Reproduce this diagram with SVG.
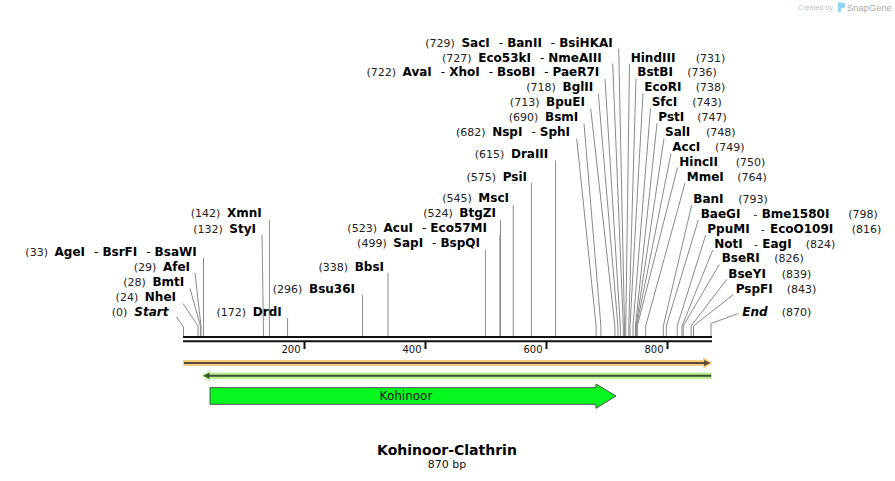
<svg xmlns="http://www.w3.org/2000/svg" width="895" height="481" viewBox="0 0 895 481">
<style>
.n{font-family:"DejaVu Sans",Verdana,sans-serif;font-size:11px;font-weight:normal;font-style:normal;fill:#222}
.b{font-family:"DejaVu Sans",Verdana,sans-serif;font-size:12px;font-weight:bold;fill:#000}
.d{font-weight:normal}
.i{font-style:italic}
.ln{stroke:#8a8a8a;stroke-width:1;fill:none}
.bb{stroke:#111;stroke-width:2}
.tk{stroke:#111;stroke-width:2}
.tl{font-family:"DejaVu Sans",Verdana,sans-serif;font-size:10px;fill:#111}
</style>
<rect width="895" height="481" fill="#fff"/>

<g id="watermark">
<text x="798" y="10" font-family="Liberation Sans,Arial,sans-serif" font-size="7.2" fill="#c4c4c4">Created by</text>
<path d="M838,2.5 h4.5 a2.8,2.8 0 0 1 0,5.6 h-1.6 v4 h-2.9 z" fill="#8fd2f3"/>
<text x="847" y="11" font-family="Liberation Sans,Arial,sans-serif" font-size="9.4" fill="#ababab">SnapGene</text>
</g>

<g id="connectors">
<path class="ln" d="M176.5,317 L183.5,327 V336"/>
<path class="ln" d="M183,303.5 L198,326 V336"/>
<path class="ln" d="M190,288.5 L200.4,326 V336"/>
<path class="ln" d="M195,273 L201,326 V336"/>
<path class="ln" d="M203.5,258 V336"/>
<path class="ln" d="M262,234.5 L263.4,326 V336"/>
<path class="ln" d="M269.4,220 V336"/>
<path class="ln" d="M287.6,318 V336"/>
<path class="ln" d="M362.6,295 V336"/>
<path class="ln" d="M388,273 V336"/>
<path class="ln" d="M485.4,250 V336"/>
<path class="ln" d="M499.9,235 V336"/>
<path class="ln" d="M500.5,220 V336"/>
<path class="ln" d="M513.2,205 V336"/>
<path class="ln" d="M531.4,183 V336"/>
<path class="ln" d="M555.6,160.5 V336"/>
<path class="ln" d="M576.7,138.5 L596.1,326 V336"/>
<path class="ln" d="M584,123.5 L600.9,326 V336"/>
<path class="ln" d="M590.7,108.5 L614.9,326 V336"/>
<path class="ln" d="M598.3,93.5 L617.9,326 V336"/>
<path class="ln" d="M605,79 L620.3,326 V336"/>
<path class="ln" d="M612.7,63.5 L623.3,326 V336"/>
<path class="ln" d="M618.7,48.5 L624.5,326 V336"/>
<path class="ln" d="M629.5,64 L625.8,326 V336"/>
<path class="ln" d="M636,78.5 L628.8,326 V336"/>
<path class="ln" d="M643,93.5 L630,326 V336"/>
<path class="ln" d="M650.5,108.5 L633,326 V336"/>
<path class="ln" d="M657,123.5 L635.4,326 V336"/>
<path class="ln" d="M664,138.5 L636,326 V336"/>
<path class="ln" d="M671,153.5 L636.6,326 V336"/>
<path class="ln" d="M677.5,167.5 L637.3,326 V336"/>
<path class="ln" d="M685,183 L645.7,326 V336"/>
<path class="ln" d="M691.7,205 L663.3,326 V336"/>
<path class="ln" d="M698.3,220 L666.3,326 V336"/>
<path class="ln" d="M705.7,235 L677.2,326 V336"/>
<path class="ln" d="M712.7,250 L682,326 V336"/>
<path class="ln" d="M719.3,264.5 L683.2,326 V336"/>
<path class="ln" d="M726.7,279.5 L691.1,326 V336"/>
<path class="ln" d="M733.3,294.5 L693.5,326 V336"/>
<path class="ln" d="M738.3,313.5 L711,323.5 V336"/>
</g>

<g id="site-0"><text class="b" x="168.5" y="316" text-anchor="end"><tspan class="n">(0)</tspan><tspan class="i" dx="7">Start</tspan></text></g>
<g id="site-24"><text class="b" x="176" y="301" text-anchor="end"><tspan class="n">(24)</tspan><tspan dx="6.6">NheI</tspan></text></g>
<g id="site-28"><text class="b" x="184.3" y="286" text-anchor="end"><tspan class="n">(28)</tspan><tspan dx="6.6">BmtI</tspan></text></g>
<g id="site-29"><text class="b" x="190" y="271" text-anchor="end"><tspan class="n">(29)</tspan><tspan dx="6.6">AfeI</tspan></text></g>
<g id="site-33"><text class="b" x="196.7" y="255.5" text-anchor="end"><tspan class="n">(33)</tspan><tspan dx="6.6">AgeI</tspan><tspan class="d" dx="9">-</tspan><tspan dx="4">BsrFI</tspan><tspan class="d" dx="9">-</tspan><tspan dx="4">BsaWI</tspan></text></g>
<g id="site-142"><text class="b" x="261.7" y="217.3" text-anchor="end"><tspan class="n">(142)</tspan><tspan dx="6.6">XmnI</tspan></text></g>
<g id="site-132"><text class="b" x="256" y="232.7" text-anchor="end"><tspan class="n">(132)</tspan><tspan dx="6.6">StyI</tspan></text></g>
<g id="site-172"><text class="b" x="281.7" y="316" text-anchor="end"><tspan class="n">(172)</tspan><tspan dx="6.6">DrdI</tspan></text></g>
<g id="site-296"><text class="b" x="355" y="292.7" text-anchor="end"><tspan class="n">(296)</tspan><tspan dx="6.6">Bsu36I</tspan></text></g>
<g id="site-338"><text class="b" x="384" y="270.5" text-anchor="end"><tspan class="n">(338)</tspan><tspan dx="6.6">BbsI</tspan></text></g>
<g id="site-499"><text class="b" x="480" y="247" text-anchor="end"><tspan class="n">(499)</tspan><tspan dx="6.6">SapI</tspan><tspan class="d" dx="9">-</tspan><tspan dx="4">BspQI</tspan></text></g>
<g id="site-523"><text class="b" x="487" y="232" text-anchor="end"><tspan class="n">(523)</tspan><tspan dx="6.6">AcuI</tspan><tspan class="d" dx="9">-</tspan><tspan dx="4">Eco57MI</tspan></text></g>
<g id="site-524"><text class="b" x="496" y="217" text-anchor="end"><tspan class="n">(524)</tspan><tspan dx="6.6">BtgZI</tspan></text></g>
<g id="site-545"><text class="b" x="509" y="202" text-anchor="end"><tspan class="n">(545)</tspan><tspan dx="6.6">MscI</tspan></text></g>
<g id="site-575"><text class="b" x="527" y="180.5" text-anchor="end"><tspan class="n">(575)</tspan><tspan dx="6.6">PsiI</tspan></text></g>
<g id="site-615"><text class="b" x="548.3" y="157.7" text-anchor="end"><tspan class="n">(615)</tspan><tspan dx="6.6">DraIII</tspan></text></g>
<g id="site-682"><text class="b" x="570" y="136" text-anchor="end"><tspan class="n">(682)</tspan><tspan dx="6.6">NspI</tspan><tspan class="d" dx="9">-</tspan><tspan dx="4">SphI</tspan></text></g>
<g id="site-690"><text class="b" x="578.3" y="121" text-anchor="end"><tspan class="n">(690)</tspan><tspan dx="6.6">BsmI</tspan></text></g>
<g id="site-713"><text class="b" x="585" y="106" text-anchor="end"><tspan class="n">(713)</tspan><tspan dx="6.6">BpuEI</tspan></text></g>
<g id="site-718"><text class="b" x="593.3" y="91" text-anchor="end"><tspan class="n">(718)</tspan><tspan dx="6.6">BglII</tspan></text></g>
<g id="site-722"><text class="b" x="599.3" y="76" text-anchor="end"><tspan class="n">(722)</tspan><tspan dx="6.6">AvaI</tspan><tspan class="d" dx="9">-</tspan><tspan dx="4">XhoI</tspan><tspan class="d" dx="9">-</tspan><tspan dx="4">BsoBI</tspan><tspan class="d" dx="9">-</tspan><tspan dx="4">PaeR7I</tspan></text></g>
<g id="site-727"><text class="b" x="601.7" y="61.5" text-anchor="end"><tspan class="n">(727)</tspan><tspan dx="6.6">Eco53kI</tspan><tspan class="d" dx="9">-</tspan><tspan dx="4">NmeAIII</tspan></text></g>
<g id="site-729"><text class="b" x="612.7" y="46.5" text-anchor="end"><tspan class="n">(729)</tspan><tspan dx="6.6">SacI</tspan><tspan class="d" dx="9">-</tspan><tspan dx="4">BanII</tspan><tspan class="d" dx="9">-</tspan><tspan dx="4">BsiHKAI</tspan></text></g>

<g id="site-731"><text class="b" x="630.7" y="61.5">HindIII</text><text class="n" x="695.7" y="61.5">(731)</text></g>
<g id="site-736"><text class="b" x="637.3" y="76">BstBI</text><text class="n" x="687.3" y="76">(736)</text></g>
<g id="site-738"><text class="b" x="644.3" y="91">EcoRI</text><text class="n" x="695.7" y="91">(738)</text></g>
<g id="site-743"><text class="b" x="651.7" y="106">SfcI</text><text class="n" x="692.3" y="106">(743)</text></g>
<g id="site-747"><text class="b" x="658.3" y="121">PstI</text><text class="n" x="697.3" y="121">(747)</text></g>
<g id="site-748"><text class="b" x="665" y="136">SalI</text><text class="n" x="706" y="136">(748)</text></g>
<g id="site-749"><text class="b" x="672.3" y="151">AccI</text><text class="n" x="715" y="151">(749)</text></g>
<g id="site-750"><text class="b" x="679.3" y="165.5">HincII</text><text class="n" x="735.7" y="165.5">(750)</text></g>
<g id="site-764"><text class="b" x="686.7" y="180.5">MmeI</text><text class="n" x="737.3" y="180.5">(764)</text></g>
<g id="site-793"><text class="b" x="693.3" y="202.5">BanI</text><text class="n" x="738.3" y="202.5">(793)</text></g>
<g id="site-798"><text class="b" x="700.7" y="217.7">BaeGI</text><text class="n" x="753.3" y="217.7">-</text><text class="b" x="761.7" y="217.7">Bme1580I</text><text class="n" x="848.3" y="217.7">(798)</text></g>
<g id="site-816"><text class="b" x="707.3" y="232.7">PpuMI</text><text class="n" x="760.7" y="232.7">-</text><text class="b" x="770" y="232.7">EcoO109I</text><text class="n" x="851.7" y="232.7">(816)</text></g>
<g id="site-824"><text class="b" x="714.3" y="247.7">NotI</text><text class="n" x="754" y="247.7">-</text><text class="b" x="762.3" y="247.7">EagI</text><text class="n" x="805.7" y="247.7">(824)</text></g>
<g id="site-826"><text class="b" x="721.7" y="262.3">BseRI</text><text class="n" x="774.3" y="262.3">(826)</text></g>
<g id="site-839"><text class="b" x="728.3" y="277.7">BseYI</text><text class="n" x="781.7" y="277.7">(839)</text></g>
<g id="site-843"><text class="b" x="735.7" y="292.7">PspFI</text><text class="n" x="786.7" y="292.7">(843)</text></g>
<g id="site-870"><text class="b i" x="742.3" y="315.7">End</text><text class="n" x="781.7" y="315.7">(870)</text></g>

<g id="backbone">
<line class="bb" x1="183" y1="337" x2="712" y2="337"/>
<line class="bb" x1="183" y1="341.3" x2="712" y2="341.3"/>
<line class="tk" x1="304.5" y1="342" x2="304.5" y2="349"/>
<line class="tk" x1="425.5" y1="342" x2="425.5" y2="349"/>
<line class="tk" x1="546.5" y1="342" x2="546.5" y2="349"/>
<line class="tk" x1="667.5" y1="342" x2="667.5" y2="349"/>
<text class="tl" x="300.5" y="352.5" text-anchor="end">200</text>
<text class="tl" x="421.5" y="352.5" text-anchor="end">400</text>
<text class="tl" x="542.5" y="352.5" text-anchor="end">600</text>
<text class="tl" x="663.5" y="352.5" text-anchor="end">800</text>
</g>

<g id="orange-strand">
<polygon points="183,360 703,360 703,357 712.5,363 703,369 703,366 183,366" fill="#f9cd84"/>
<line x1="184" y1="363" x2="705" y2="363" stroke="#5b4a37" stroke-width="2"/>
<polygon points="704,360 710.5,363 704,366" fill="#5b4a37"/>
</g>

<g id="green-strand">
<polygon points="712,372.5 210,372.5 210,370 201,375.7 210,381.5 210,379 712,379" fill="#b9f08c"/>
<line x1="207" y1="375.7" x2="711" y2="375.7" stroke="#404d37" stroke-width="2"/>
<polygon points="209.5,372.7 203.3,375.7 209.5,378.7" fill="#404d37"/>
</g>

<g id="kohinoor">
<polygon points="210,387.7 596,387.7 596,384 616,396 596,408.3 596,404.3 210,404.3" fill="#05f71e" stroke="#4d4d4d" stroke-width="1"/>
<text x="406" y="400" text-anchor="middle" font-family="DejaVu Sans,Verdana,sans-serif" font-size="12" fill="#111">Kohinoor</text>
</g>

<g id="title">
<text x="447" y="455" text-anchor="middle" font-family="DejaVu Sans,Verdana,sans-serif" font-size="14" font-weight="bold" fill="#000">Kohinoor-Clathrin</text>
<text x="447" y="467.5" text-anchor="middle" font-family="DejaVu Sans,Verdana,sans-serif" font-size="11" fill="#111">870 bp</text>
</g>
</svg>
